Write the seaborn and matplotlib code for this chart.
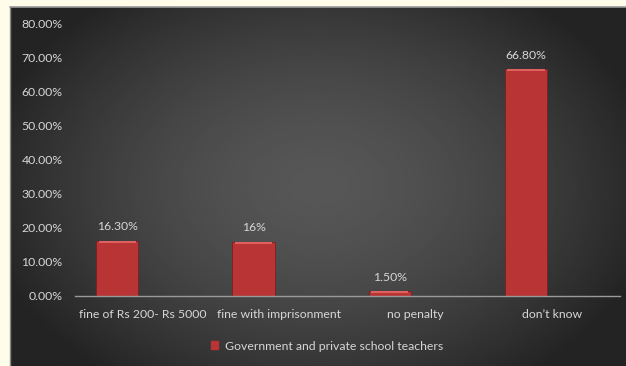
import numpy as np
import pandas as pd
import matplotlib
matplotlib.use("Agg")
import matplotlib.pyplot as plt
import seaborn as sns
from matplotlib.patches import Rectangle
from matplotlib.lines import Line2D

categories = ["fine of Rs 200- Rs 5000", "fine with imprisonment", "no penalty", "don\u2019t know"]
shares = [0.163, 0.16, 0.015, 0.668]
value_labels = ["16.30%", "16%", "1.50%", "66.80%"]
y_ticks = [0.0, 0.1, 0.2, 0.3, 0.4, 0.5, 0.6, 0.7, 0.8]
series_name = "Government and private school teachers"
# second, empty slot in each cluster (keeps the bars left of the category centre)
empty_series = "(empty)"

sns.set_theme(style="white")
plt.rcParams["font.family"] = ["Lato", "DejaVu Sans"]

text_color = "#D6D6D6"
bar_color = "#B93434"
fs = 8.8

W, H = 626, 366
fig = plt.figure(figsize=(W / 100, H / 100), dpi=100, facecolor="#FFFCEA")

# dark panel with a soft radial gradient
bg = fig.add_axes([10 / W, 0, (W - 10) / W, (H - 7) / H])
gy, gx = np.mgrid[0:1:200j, 0:1:300j]
r = np.sqrt(((gx - 0.5) / 0.5) ** 2 + ((gy - 0.5) / 0.6) ** 2)
shade = np.clip(0.34 - 0.17 * r ** 1.6, 0.14, 0.34)
bg.imshow(shade, cmap="gray", vmin=0, vmax=1, aspect="auto", extent=[0, 1, 0, 1])
bg.set_axis_off()
fig.add_artist(Line2D([10 / W, 1], [(H - 7) / H] * 2, color="#9A9A9A", lw=1.2))
fig.add_artist(Line2D([10 / W] * 2, [0, (H - 7) / H], color="#8A8A8A", lw=1.0))

ax = fig.add_axes([75 / W, 70 / H, 545 / W, 272 / H])
ax.patch.set_alpha(0)

df = pd.DataFrame({
    "category": categories * 2,
    "share": shares + [np.nan] * len(categories),
    "series": [series_name] * len(categories) + [empty_series] * len(categories),
})
sns.barplot(data=df, x="category", y="share", hue="series",
            palette={series_name: bar_color, empty_series: bar_color},
            width=0.76, gap=0.184, saturation=1, ax=ax, legend=False,
            edgecolor="#7E1F1F", linewidth=0.6)

bars = ax.containers[0]
# bevel highlight along the top of each bar
for p in bars:
    x0, w, h = p.get_x(), p.get_width(), p.get_height()
    ax.add_patch(Rectangle((x0 + w * 0.06, h - 0.006), w * 0.88, 0.005,
                           color="#E06060", lw=0, zorder=3))

ax.bar_label(bars, labels=value_labels, padding=6, color=text_color, fontsize=fs)

ax.set_ylim(0, 0.8)
ax.set_xlim(-0.5, 3.5)
ax.set_yticks(y_ticks)
ax.set_yticklabels([f"{v * 100:.2f}%" for v in y_ticks], color=text_color, fontsize=fs)
ax.tick_params(axis="y", length=0, pad=9)
ax.tick_params(axis="x", length=0, pad=9, labelcolor=text_color, labelsize=fs)
ax.set_xlabel("")
ax.set_ylabel("")
for s in ["top", "right", "left"]:
    ax.spines[s].set_visible(False)
ax.spines["bottom"].set_color("#9A9A9A")
ax.spines["bottom"].set_linewidth(1.0)
ax.grid(False)

handle = Rectangle((0, 0), 1, 1, color=bar_color)
fig.legend([handle], [series_name], loc="center", bbox_to_anchor=(327 / W, 1 - 346 / H),
           frameon=False, fontsize=fs, labelcolor=text_color, handlelength=0.6,
           handleheight=0.6, handletextpad=0.5)

fig.savefig("out.png", dpi=100, facecolor=fig.get_facecolor())
